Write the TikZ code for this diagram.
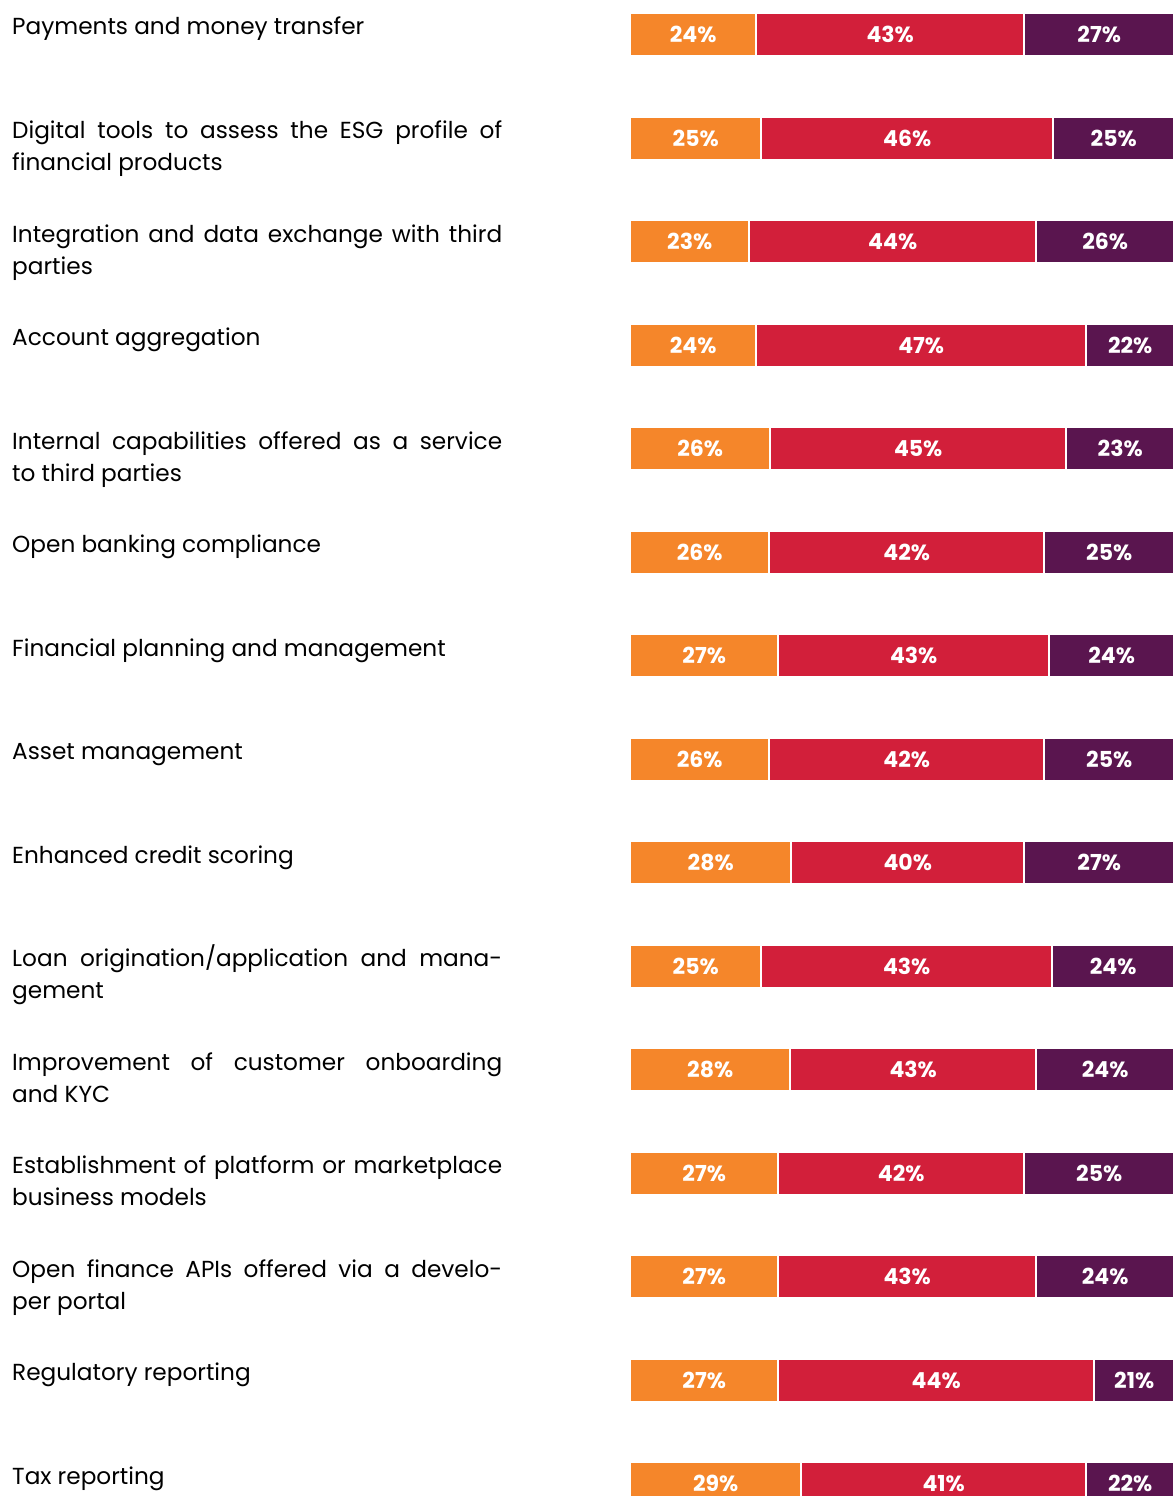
\documentclass[tikz,border=0pt]{standalone}
\usepackage{fontspec}
\setmainfont{Poppins}
\definecolor{orng}{HTML}{F5862A}
\definecolor{crim}{HTML}{D21F3A}
\definecolor{plum}{HTML}{5A154F}
\tikzset{
  seg/.style={anchor=north west, minimum height=41pt, inner sep=0pt, text=white,
    font=\fontsize{22}{22}\selectfont\bfseries},
  lbl/.style={anchor=base west, text width=490pt, align=justify, inner sep=0pt,
    font=\fontsize{23.2}{32}\selectfont}
}

\begin{document}
\begin{tikzpicture}[x=1pt,y=-1pt]
  \clip (0,0) rectangle (1173,1496);
  \fill[white] (0,0) rectangle (1173,1496);

  % label / end of orange / end of red / three shares
  \foreach \txt/\a/\b/\p/\q/\r [count=\n] in {
      {Payments and money transfer}/755/1023/24/43/27,
      {Digital tools to assess the ESG profile of\linebreak financial products}/760/1052/25/46/25,
      {Integration and data exchange with third\linebreak parties}/748/1035/23/44/26,
      {Account aggregation}/755/1085/24/47/22,
      {Internal capabilities offered as a service\linebreak to third parties}/769/1065/26/45/23,
      {Open banking compliance}/768/1043/26/42/25,
      {Financial planning and management}/777/1048/27/43/24,
      {Asset management}/768/1043/26/42/25,
      {Enhanced credit scoring}/790/1023/28/40/27,
      {Loan origination/application and mana-\linebreak gement}/760/1051/25/43/24,
      {Improvement of customer onboarding\linebreak and KYC}/789/1035/28/43/24,
      {Establishment of platform or marketplace\linebreak business models}/777/1023/27/42/25,
      {Open finance APIs offered via a develo-\linebreak per portal}/777/1035/27/43/24,
      {Regulatory reporting}/777/1093/27/44/21,
      {Tax reporting}/800/1085/29/41/22}
  {
    \pgfmathsetmacro\ty{14+(\n-1)*103.5}
    \pgfmathsetmacro\wo{\a-631}
    \pgfmathsetmacro\wr{\b-\a-2}
    \pgfmathsetmacro\wp{1173-\b-2}
    \node[lbl] (l\n) at (12,\ty+21) {\txt};
    \node[seg,fill=orng,minimum width=\wo pt] (o\n) at (631,\ty) {\p\%};
    \node[seg,fill=crim,minimum width=\wr pt] (r\n) at (\a+2,\ty) {\q\%};
    \node[seg,fill=plum,minimum width=\wp pt] (p\n) at (\b+2,\ty) {\r\%};
  }
\end{tikzpicture}
\end{document}
